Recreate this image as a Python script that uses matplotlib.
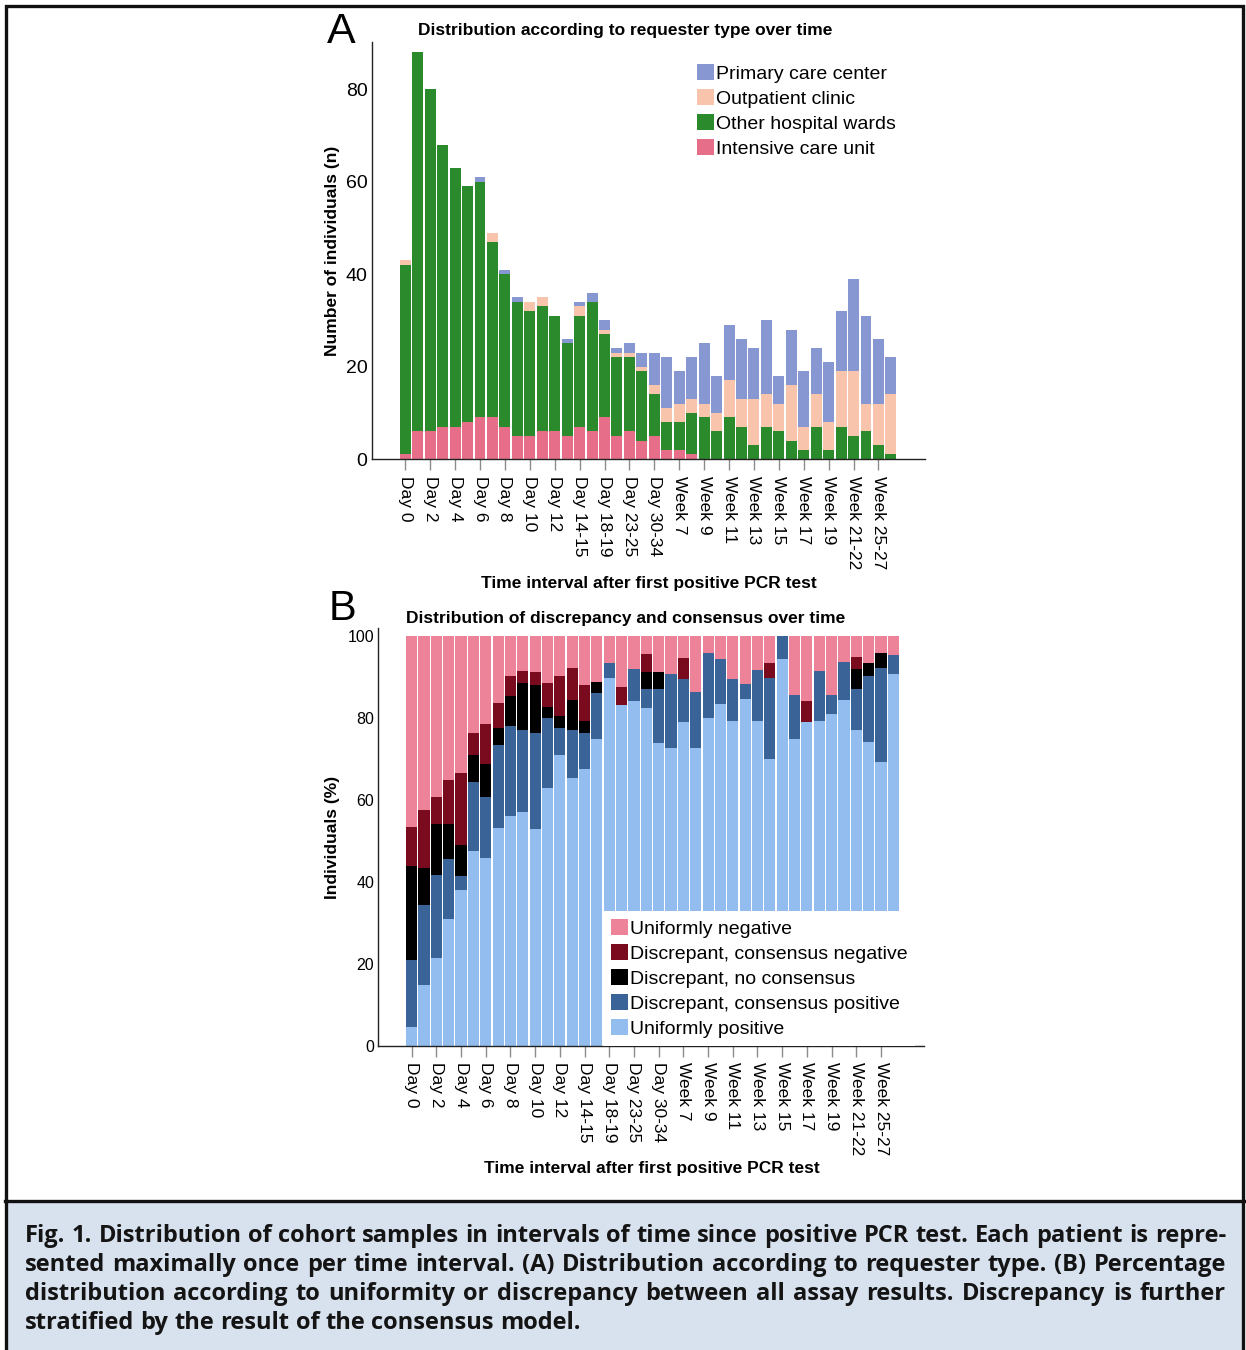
import matplotlib
matplotlib.use('Agg')
import matplotlib.pyplot as plt
import numpy as np
from matplotlib.patches import Rectangle
from matplotlib.lines import Line2D

plt.rcParams['font.family'] = ['Liberation Sans', 'DejaVu Sans']

# ---- data -------------------------------------------------------------
intervals = ['Day 0', 'Day 1', 'Day 2', 'Day 3', 'Day 4', 'Day 5', 'Day 6', 'Day 7',
             'Day 8', 'Day 9', 'Day 10', 'Day 11', 'Day 12', 'Day 13',
             'Day 14-15', 'Day 16-17', 'Day 18-19', 'Day 20-22', 'Day 23-25',
             'Day 26-29', 'Day 30-34', 'Day 35-41',
             'Week 7', 'Week 8', 'Week 9', 'Week 10', 'Week 11', 'Week 12', 'Week 13',
             'Week 14', 'Week 15', 'Week 16', 'Week 17', 'Week 18', 'Week 19', 'Week 20',
             'Week 21-22', 'Week 23-24', 'Week 25-27', 'Week 28-31']

# panel A: counts per requester type
icu = [1, 6, 6, 7, 7, 8, 9, 9, 7, 5, 5, 6, 6, 5, 7, 6, 9, 5, 6, 4,
       5, 2, 2, 1, 0, 0, 0, 0, 0, 0, 0, 0, 0, 0, 0, 0, 0, 0, 0, 0]
other_wards = [41, 82, 74, 61, 56, 51, 51, 38, 33, 29, 27, 27, 25, 20, 24, 28, 18, 17, 16, 15,
               9, 6, 6, 9, 9, 6, 9, 7, 3, 7, 6, 4, 2, 7, 2, 7, 5, 6, 3, 1]
outpatient = [1, 0, 0, 0, 0, 0, 0, 2, 0, 0, 2, 2, 0, 0, 2, 0, 1, 1, 1, 1,
              2, 3, 4, 3, 3, 4, 8, 6, 10, 7, 6, 12, 5, 7, 6, 12, 14, 6, 9, 13]
primary_care = [0, 0, 0, 0, 0, 0, 1, 0, 1, 1, 0, 0, 0, 1, 1, 2, 2, 1, 2, 3,
                7, 11, 7, 9, 13, 8, 12, 13, 11, 16, 6, 12, 12, 10, 13, 13, 20, 19, 14, 8]

# panel B: percentages
uni_pos = [4.6, 14.8, 21.5, 30.8, 38.1, 47.4, 45.9, 53.1, 56.0, 57.1, 52.8, 62.8, 71.0, 65.3,
           67.5, 74.8, 89.8, 83.2, 84.1, 82.5, 73.9, 72.7, 78.9, 72.7, 80.0, 83.3, 79.3, 84.6,
           79.3, 70.0, 94.3, 74.8, 78.9, 79.3, 80.9, 84.3, 76.9, 74.1, 69.2, 90.8]
disc_pos = [16.3, 19.6, 20.2, 14.7, 3.2, 17.0, 14.7, 20.3, 22.0, 20.0, 23.6, 17.2, 6.4, 11.6,
            8.9, 11.2, 3.5, 0, 7.8, 4.4, 13.0, 18.0, 10.5, 13.5, 15.8, 11.0, 10.2, 3.7,
            12.3, 19.8, 5.7, 10.8, 0, 12.2, 4.7, 9.4, 10.1, 16.2, 23.0, 4.6]
disc_none = [22.9, 8.9, 12.4, 8.6, 7.7, 6.6, 8.2, 4.0, 7.2, 11.3, 11.7, 2.7, 3.0, 7.5,
             2.9, 2.8, 0, 0, 0, 4.2, 4.2, 0, 0, 0, 0, 0, 0, 0,
             0, 0, 0, 0, 0, 0, 0, 0, 5.0, 3.1, 3.7, 0]
disc_neg = [9.5, 14.1, 6.5, 10.6, 17.6, 5.2, 9.8, 6.1, 4.9, 2.9, 3.0, 5.8, 9.8, 7.8,
            8.8, 0, 0, 4.2, 0, 4.4, 0, 0, 5.2, 0, 0, 0, 0, 0,
            0, 3.5, 0, 0, 5.2, 0, 0, 0, 2.9, 0, 0, 0]
uni_neg = [46.7, 42.6, 39.4, 35.3, 33.4, 23.8, 21.4, 16.5, 9.9, 8.7, 8.9, 11.5, 9.8, 7.8,
           11.9, 11.2, 6.7, 12.6, 8.1, 4.5, 8.9, 9.3, 5.4, 13.8, 4.2, 5.7, 10.5, 11.7,
           8.4, 6.7, 0, 14.4, 15.9, 8.5, 14.4, 6.3, 5.1, 6.6, 4.1, 4.6]

W, H = 1246, 1350
fig = plt.figure(figsize=(W / 100, H / 100), dpi=100)


def fx(px):
    return px / W


def fy(py):
    return 1 - py / H


def style_axes(ax, ylabelsize):
    for s in ['top', 'right']:
        ax.spines[s].set_visible(False)
    for s in ['left', 'bottom']:
        ax.spines[s].set_color('#222222')
        ax.spines[s].set_linewidth(1.0)
    ax.tick_params(axis='x', length=8, width=1, color='#8c8c8c', pad=4)
    ax.tick_params(axis='y', length=0, pad=3, labelsize=ylabelsize)


x = np.arange(len(intervals))

# ---- panel A ------------------------------------------------------------
axA = fig.add_axes([fx(371.7), fy(459), (925 - 371.7) / W, (459 - 41.7) / H])
seriesA = [(icu, 'Intensive care unit', '#e66e89'),
           (other_wards, 'Other hospital wards', '#2b8a2b'),
           (outpatient, 'Outpatient clinic', '#f8c4ab'),
           (primary_care, 'Primary care center', '#8797d1')]
bottom = np.zeros(len(x))
handlesA = []
for vals, name, col in seriesA:
    b = axA.bar(x, vals, bottom=bottom, width=0.88, color=col, linewidth=0, label=name)
    handlesA.append(b)
    bottom += np.array(vals)
axA.set_xlim(-2.7, 41.74)
axA.set_ylim(0, 90.3)
axA.set_yticks([0, 20, 40, 60, 80])
axA.set_xticks(x[::2])
axA.set_xticklabels(intervals[::2], rotation=270, fontsize=12.5)
style_axes(axA, 14)
axA.legend(handles=handlesA[::-1], loc='upper left',
           bbox_to_anchor=((697 - 371.7) / 553.3, (459 - 64) / 417.3),
           frameon=False, fontsize=14, handlelength=0.9, handleheight=0.9,
           handletextpad=0.08, labelspacing=0.32, borderpad=0, borderaxespad=0)

# ---- panel B ------------------------------------------------------------
axB = fig.add_axes([fx(378.3), fy(1045.7), (924 - 378.3) / W, (1045.7 - 628) / H])
seriesB = [(uni_pos, 'Uniformly positive', '#94bdef'),
           (disc_pos, 'Discrepant, consensus positive', '#3a6398'),
           (disc_none, 'Discrepant, no consensus', '#000000'),
           (disc_neg, 'Discrepant, consensus negative', '#7a0b1f'),
           (uni_neg, 'Uniformly negative', '#ec8398')]
bottom = np.zeros(len(x))
handlesB = []
for vals, name, col in seriesB:
    b = axB.bar(x, vals, bottom=bottom, width=0.9, color=col, linewidth=0, label=name)
    handlesB.append(b)
    bottom += np.array(vals)
axB.set_xlim(-2.7, 41.48)
axB.set_ylim(0, 101.9)
axB.set_yticks([0, 20, 40, 60, 80, 100])
axB.set_xticks(x[::2])
axB.set_xticklabels(intervals[::2], rotation=270, fontsize=12.5)
style_axes(axB, 11.5)
axB.legend(handles=handlesB[::-1], loc='lower left',
           bbox_to_anchor=((603 - 378.3) / 545.7, 0.0),
           frameon=True, facecolor='white', edgecolor='none', framealpha=1,
           fancybox=False, fontsize=14, handlelength=0.9, handleheight=0.9,
           handletextpad=0.08, labelspacing=0.32, borderpad=0.4, borderaxespad=0)

# ---- titles and labels ---------------------------------------------------
fig.text(fx(341), fy(32), 'A', fontsize=31, ha='center', va='center')
fig.text(fx(342), fy(609), 'B', fontsize=30, ha='center', va='center')
fig.text(fx(625), fy(31), 'Distribution according to requester type over time',
         fontsize=12.5, fontweight='bold', ha='center', va='center')
fig.text(fx(625.5), fy(618), 'Distribution of discrepancy and consensus over time',
         fontsize=12.5, fontweight='bold', ha='center', va='center')
fig.text(fx(648.5), fy(583), 'Time interval after first positive PCR test',
         fontsize=12.5, fontweight='bold', ha='center', va='center')
fig.text(fx(651.5), fy(1169), 'Time interval after first positive PCR test',
         fontsize=12.5, fontweight='bold', ha='center', va='center')
fig.text(fx(333), fy(251), 'Number of individuals (n)', rotation=90,
         fontsize=12.5, fontweight='bold', ha='center', va='center')
fig.text(fx(333), fy(837), 'Individuals (%)', rotation=90,
         fontsize=12.5, fontweight='bold', ha='center', va='center')

# ---- frame and caption ---------------------------------------------------
fig.patches.append(Rectangle((fx(5), 0), (1244 - 5) / W, (1350 - 1201) / H,
                             transform=fig.transFigure, facecolor='#d8e1ee',
                             edgecolor='none', zorder=0))
fig.lines.append(Line2D([fx(5), fx(1244)], [fy(1201), fy(1201)],
                        transform=fig.transFigure, color='#111111', linewidth=2.4))
fig.patches.append(Rectangle((fx(6), fy(1360)), (1243 - 6) / W, (1360 - 6.5) / H,
                             transform=fig.transFigure, fill=False,
                             edgecolor='#111111', linewidth=2.4))

caption = [
    ('Fig. 1. Distribution of cohort samples in intervals of time since positive PCR test. '
     'Each patient is repre-', True),
    ('sented maximally once per time interval. (A) Distribution according to requester type. '
     '(B) Percentage', True),
    ('distribution according to uniformity or discrepancy between all assay results. '
     'Discrepancy is further', True),
    ('stratified by the result of the consensus model.', False),
]
line_y = [1236, 1265, 1294, 1323]
renderer = fig.canvas.get_renderer()

# pick the font size from the width of the last (unjustified) line
probe = fig.text(0, 0, caption[3][0], fontsize=15, family='Open Sans', fontweight='bold')
fs = 15 * (581 - 25) / probe.get_window_extent(renderer).width
probe.remove()
space = fs * 0.26 * 100 / 72

for (line, justify), yy in zip(caption, line_y):
    words = line.split(' ')
    texts, widths = [], []
    for w in words:
        t = fig.text(0, fy(yy), w, fontsize=fs, family='Open Sans', fontweight='bold',
                     ha='left', va='center', color='#141414')
        texts.append(t)
        widths.append(t.get_window_extent(renderer).width)
    gap = (1226 - 25 - sum(widths)) / (len(words) - 1) if justify else space
    xx = 25
    for t, wd in zip(texts, widths):
        t.set_x(fx(xx))
        xx += wd + gap

fig.savefig('out.png', dpi=100)
